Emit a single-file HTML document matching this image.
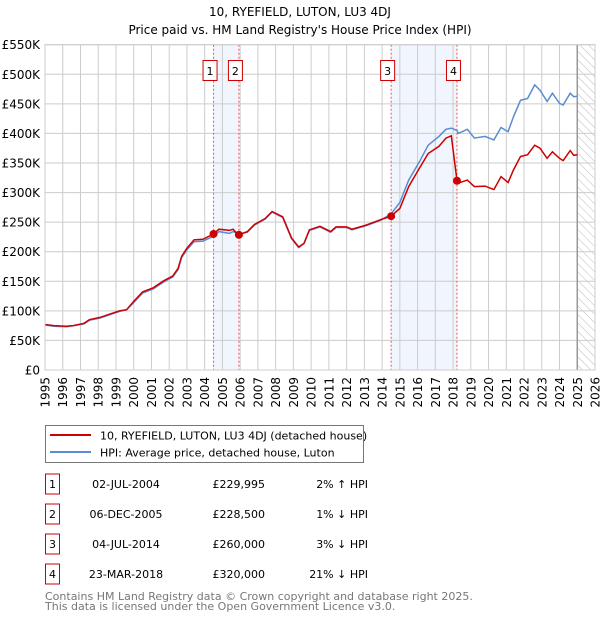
<!DOCTYPE html>
<html><head><meta charset="utf-8"><style>
body{margin:0;background:#fff;font-family:"DejaVu Sans","Liberation Sans",sans-serif;}
svg text{font-family:"DejaVu Sans","Liberation Sans",sans-serif;}
</style></head><body>
<svg id="c" width="600" height="620" xmlns="http://www.w3.org/2000/svg">
<defs><pattern id="hatch" width="6" height="6" patternUnits="userSpaceOnUse" patternTransform="rotate(-45)"><line x1="0" y1="0" x2="0" y2="6" stroke="#bbb" stroke-width="1"/></pattern></defs>
<text x="300" y="16" text-anchor="middle" font-size="12">10, RYEFIELD, LUTON, LU3 4DJ</text>
<text x="300" y="34" text-anchor="middle" font-size="12">Price paid vs. HM Land Registry's House Price Index (HPI)</text>
<g id="plot"></g>
<g>
<rect x="45.5" y="425.5" width="318" height="37" fill="#fff" stroke="#777"/>
<line x1="50" y1="435" x2="91" y2="435" stroke="#cc0000" stroke-width="2"/>
<text x="100" y="439.5" font-size="11">10, RYEFIELD, LUTON, LU3 4DJ (detached house)</text>
<line x1="50" y1="452" x2="91" y2="452" stroke="#5b8ccf" stroke-width="2"/>
<text x="100" y="456.5" font-size="11">HPI: Average price, detached house, Luton</text>
</g>
<g id="table" font-size="11"></g>
<text x="45" y="600" font-size="11" fill="#777">Contains HM Land Registry data © Crown copyright and database right 2025.</text>
<text x="45" y="610" font-size="11" fill="#777">This data is licensed under the Open Government Licence v3.0.</text>
</svg>
<script>
const years=[1995,1995.5,1996.2,1996.6,1997.2,1997.5,1998.1,1998.7,1999.2,1999.6,2000,2000.5,2001.1,2001.7,2002.2,2002.5,2002.7,2003,2003.4,2003.9,2004.5,2004.8,2005.4,2005.6,2005.9,2006.4,2006.8,2007.4,2007.8,2008.4,2008.9,2009.3,2009.6,2009.9,2010.5,2011.1,2011.4,2012,2012.3,2013.1,2013.9,2014.5,2015,2015.5,2016.1,2016.6,2017.2,2017.6,2017.9,2018.22,2018.3,2018.8,2019.2,2019.8,2020.3,2020.7,2021.1,2021.4,2021.8,2022.2,2022.6,2022.9,2023.3,2023.6,2024,2024.2,2024.6,2024.8,2025];
const hpiValues=[76,74,73,75,78,84,88,94,99,102,114,130,137,149,157,170,190,203,217,218,226,234,231,234,230,233,245,255,267,258,222,207,214,236,242,233,241,241,237,244,253,264,283,321,352,380,395,407,409,405,400,407,392,395,389,410,403,428,456,459,482,473,454,468,451,448,468,462,463];
const priceValues=[77,75,74,75,79,85,89,95,100,102,116,132,139,151,159,172,192,206,220,221,230,238,236,238,228,234,246,256,268,259,223,208,214,237,243,234,242,242,238,245,254,260,273,310,341,366,378,392,396,320,316,321,310,311,305,327,317,338,361,364,380,375,358,369,358,354,371,363,364];
const saleYears=[2004.5,2005.93,2014.51,2018.22];
const saleValues=[229.995,228.5,260,320];
const saleLabels=["1","2","3","4"];
const saleDates=["02-JUL-2004","06-DEC-2005","04-JUL-2014","23-MAR-2018"];
const salePrices=["£229,995","£228,500","£260,000","£320,000"];
const saleHpi=["2% ↑ HPI","1% ↓ HPI","3% ↓ HPI","21% ↓ HPI"];
const yTicks=[0,50,100,150,200,250,300,350,400,450,500,550];
const xTicks=[];for(let y=1995;y<=2026;y++)xTicks.push(y);
const L=45,R=595,T=44.7,B=370;
const X=v=>L+(v-1995)/31*(R-L);
const Y=v=>B-v/550*(B-T);
const NS="http://www.w3.org/2000/svg";
const g=document.getElementById('plot');
function mk(tag,attrs,parent){const e=document.createElementNS(NS,tag);for(const k in attrs)e.setAttribute(k,attrs[k]);(parent||g).appendChild(e);return e;}
// bands
[[0,1],[2,3]].forEach(p=>{const r=mk('rect',{x:X(saleYears[p[0]]),y:T,width:X(saleYears[p[1]])-X(saleYears[p[0]]),height:B-T,fill:'#eef3fc',opacity:0.8});

});
// hatch
const h=mk('rect',{x:X(2025),y:T,width:R-X(2025),height:B-T,fill:'url(#hatch)'});


// grid
yTicks.forEach(t=>{const l=mk('line',{x1:L,x2:R,y1:Y(t),y2:Y(t),stroke:'#ccc'});


const tx=mk('text',{x:L-5,y:Y(t)+4.5,'text-anchor':'end','font-size':12});tx.textContent=t===0?'£0':'£'+t+'K';

});
xTicks.forEach(t=>{const l=mk('line',{x1:X(t),x2:X(t),y1:T,y2:B,stroke:'#ccc'});


const tx=mk('text',{x:0,y:0,'text-anchor':'end','font-size':12,transform:`translate(${X(t)+4.5},${B+7}) rotate(-90)`});tx.textContent=t;

});
const vl=mk('line',{x1:X(2025),x2:X(2025),y1:T,y2:B,stroke:'#999','stroke-width':1.5});


// sale lines
saleYears.forEach((s,i)=>{const l=mk('line',{x1:X(s),x2:X(s),y1:T,y2:B,stroke:'#e55','stroke-dasharray':'2,2'});


const bx=mk('rect',{x:X(s)-10.5,y:60.5,width:14,height:20,fill:'#fff',stroke:'#cc0000'});


const tx=mk('text',{x:X(s)-3.5,y:75,'text-anchor':'middle','font-size':11});tx.textContent=saleLabels[i];});
const pts=a=>years.map((y,i)=>X(y).toFixed(1)+','+Y(a[i]).toFixed(1)).join(' ');
const hl=mk('polyline',{points:pts(hpiValues),fill:'none',stroke:'#5b8ccf','stroke-width':1.5});


const pl=mk('polyline',{points:pts(priceValues),fill:'none',stroke:'#cc0000','stroke-width':1.5});


saleYears.forEach((s,i)=>{const c=mk('circle',{cx:X(s),cy:Y(saleValues[i]),r:4,fill:'#cc0000'});

});
mk('rect',{x:L,y:T,width:R-L,height:B-T,fill:'none',stroke:'#ccc'});
// table
const tb=document.getElementById('table');
saleLabels.forEach((s,i)=>{const cy=484+i*30;
const r=mk('rect',{x:45.5,y:cy-10,width:14,height:20,fill:'#fff',stroke:'#cc0000'},tb);


const t1=mk('text',{x:52.5,y:cy+4,'text-anchor':'middle'},tb);t1.textContent=s;
const t2=mk('text',{x:126,y:cy+4,'text-anchor':'middle'},tb);t2.textContent=saleDates[i];


const t3=mk('text',{x:265,y:cy+4,'text-anchor':'end'},tb);t3.textContent=salePrices[i];


const t4=mk('text',{x:368,y:cy+4,'text-anchor':'end'},tb);t4.textContent=saleHpi[i];

});
</script>
</body></html>
